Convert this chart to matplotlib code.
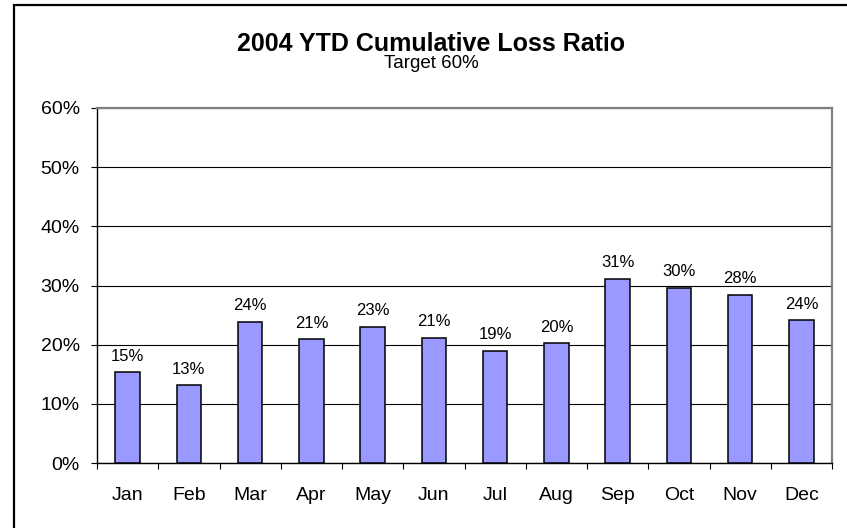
import matplotlib.pyplot as plt
from matplotlib.patches import Rectangle
from matplotlib.ticker import FixedLocator, PercentFormatter
import numpy as np

plt.rcParams['font.family'] = ['Liberation Sans', 'DejaVu Sans']

# monthly cumulative loss ratio, in percent
months = ['Jan', 'Feb', 'Mar', 'Apr', 'May', 'Jun',
          'Jul', 'Aug', 'Sep', 'Oct', 'Nov', 'Dec']
loss_ratio = [15.3, 13.1, 23.9, 20.9, 23.0, 21.2,
              19.0, 20.2, 31.1, 29.6, 28.4, 24.1]
y_ticks = [0, 10, 20, 30, 40, 50, 60]

title = '2004 YTD Cumulative Loss Ratio'
subtitle = 'Target 60%'

fig = plt.figure(figsize=(8.47, 5.28), dpi=100)
ax = fig.add_axes([97 / 847, 1 - 463 / 528, (832 - 97) / 847, (463 - 108) / 528])

x = np.arange(len(months))
bars = ax.bar(x, loss_ratio, width=0.4, color='#9999ff',
              edgecolor='black', linewidth=1.1, zorder=3)

# value labels above each bar
for xi, v in zip(x, loss_ratio):
    ax.annotate(f'{round(v):d}%', (xi, v), xytext=(0, 8.5),
                textcoords='offset points', ha='center', va='baseline',
                fontsize=12, color='black')

ax.set_xlim(-0.5, len(months) - 0.5)
ax.set_ylim(0, 60)
ax.set_yticks(y_ticks)
ax.yaxis.set_major_formatter(PercentFormatter(decimals=0))
ax.tick_params(axis='y', direction='out', length=4.5, width=0.8,
               pad=8, labelsize=14, color='black')

# month names at bar centres, tick marks at category boundaries
ax.set_xticks(x)
ax.set_xticklabels(months)
ax.xaxis.set_minor_locator(FixedLocator(np.arange(len(months) + 1) - 0.5))
ax.tick_params(axis='x', which='major', length=0, pad=17, labelsize=14)
ax.tick_params(axis='x', which='minor', direction='out', length=4.5,
               width=0.8, color='black')

ax.grid(axis='y', color='black', linewidth=0.8, zorder=0)
ax.set_axisbelow(True)

ax.spines['left'].set_color('black')
ax.spines['bottom'].set_color('black')
ax.spines['top'].set_color('#808080')
ax.spines['right'].set_color('#808080')
for s in ax.spines.values():
    s.set_linewidth(1.0)
ax.spines['top'].set_linewidth(1.6)
ax.spines['right'].set_linewidth(1.6)

fig.text(431 / 847, 1 - 51 / 528, title, ha='center', va='baseline',
         fontsize=18, fontweight='bold')
fig.text(431 / 847, 1 - 68 / 528, subtitle, ha='center', va='baseline',
         fontsize=13.5)

# chart area border
fig.patches.append(Rectangle((14 / 847, -0.05), 1.1, 1 - 5 / 528 + 0.05,
                             transform=fig.transFigure, fill=False,
                             edgecolor='black', linewidth=1.6,
                             clip_on=False))

fig.savefig('out.png', dpi=100)
